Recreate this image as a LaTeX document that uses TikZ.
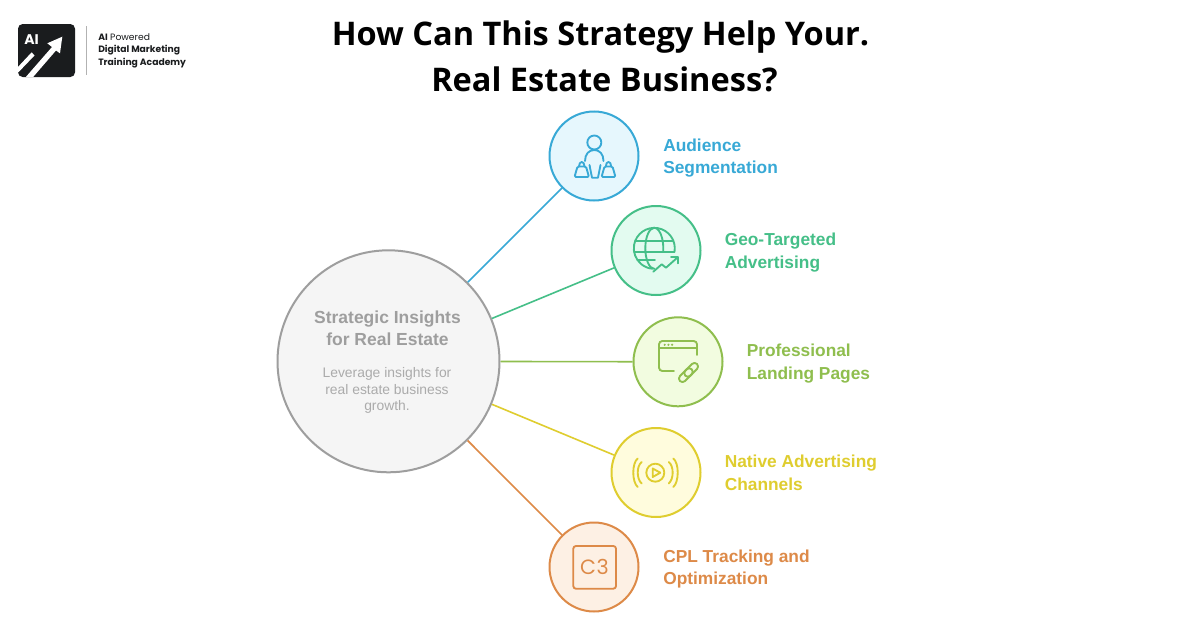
\documentclass[tikz,border=0pt]{standalone}
\usepackage{fontspec}
\setmainfont{Liberation Sans}
\newfontfamily\titlefont{Open Sans}
\newfontfamily\logofont{Poppins}
\definecolor{cblue}{HTML}{38A9D6}\definecolor{fblue}{HTML}{E6F7FD}
\definecolor{cgreen}{HTML}{45BF88}\definecolor{fgreen}{HTML}{E3FBF0}
\definecolor{colive}{HTML}{8FBE4E}\definecolor{folive}{HTML}{F2FCE0}
\definecolor{cyellow}{HTML}{DFCD2F}\definecolor{fyellow}{HTML}{FFFCDD}
\definecolor{corange}{HTML}{DD8A48}\definecolor{forange}{HTML}{FDF0E4}
\definecolor{logoink}{HTML}{1A1C1E}
\tikzset{
  bubble/.style={circle,draw=c#1,fill=f#1,line width=1.5pt,minimum size=66.75pt,inner sep=0pt},
  link/.style={line width=1.2pt,draw=c#1},
  ico/.style={line width=1.4pt,draw=c#1,line cap=round,line join=round},
  lab/.style={anchor=base west,inner sep=0pt,font=\fontsize{13}{15}\selectfont\bfseries,text=c#1},
  hub/.style={anchor=base,inner sep=0pt,font=\fontsize{13.1}{15}\selectfont\bfseries,text=black!38},
  sub/.style={anchor=base,inner sep=0pt,font=\fontsize{10.4}{13}\selectfont,text=black!33},
  ttl/.style={anchor=base,inner sep=0pt,font=\fontsize{24.4}{30}\selectfont\titlefont\bfseries,text=black},
  brand/.style={anchor=base west,inner sep=0pt,font=\fontsize{6.9}{9}\selectfont\logofont,text=logoink},
}
\begin{document}
\begin{tikzpicture}[x=0.75pt,y=-0.75pt]
\useasboundingbox (0,0) rectangle (1200,628);
\fill[white] (0,0) rectangle (1200,628);
% logo
\fill[logoink,rounded corners=3.5pt] (18,24) rectangle (75,77);
\node[anchor=base west,inner sep=0pt,text=white,font=\fontsize{10.5}{13}\selectfont\logofont\bfseries] (logoai) at (24,44.5) {AI};
\fill[white] (26,76.8)--(33.3,76.8)--(56,50.5)--(60,53.3)--(62.3,36.7)--(47.3,43.3)--(52,47)--cycle;
\fill[white] (18.2,66.7)--(31.7,52.3)--(34.5,55.5)--(18.2,72.5)--cycle;
\draw[black!30,line width=0.75pt] (86,26)--(86,75);
\node[brand] (b1) at (98,40.7) {\textbf{AI} Powered};
\node[brand] (b2) at (98,52.7) {\textbf{Digital Marketing}};
\node[brand] (b3) at (98,65) {\textbf{Training Academy}};
% title
\node[ttl] (t1) at (600.5,45) {How Can This Strategy Help Your.};
\node[ttl] (t2) at (604.5,91) {Real Estate Business?};
% hub and bubbles
\node[circle,draw=black!38,fill=black!4,line width=1.5pt,minimum size=166.5pt,inner sep=0pt] (hub) at (388.5,361.3) {};
\node[bubble=blue] (a) at (594,156) {};
\node[bubble=green] (g) at (656,250.5) {};
\node[bubble=olive] (p) at (678,361.8) {};
\node[bubble=yellow] (n) at (656,472.5) {};
\node[bubble=orange] (c) at (594,567) {};
\draw[link=blue] (hub)--(a);
\draw[link=green] (hub)--(g);
\draw[link=olive] (hub)--(p);
\draw[link=yellow] (hub)--(n);
\draw[link=orange] (hub)--(c);
% hub text
\node[hub] (h1) at (387.5,323) {Strategic Insights};
\node[hub] (h2) at (387.5,345) {for Real Estate};
\node[sub] (s1) at (387,377.5) {Leverage insights for};
\node[sub] (s2) at (387,394) {real estate business};
\node[sub] (s3) at (387,410.5) {growth.};
% labels
\node[lab=blue] (l1a) at (663,151) {Audience};
\node[lab=blue] (l1b) at (663,173) {Segmentation};
\node[lab=green] (l2a) at (724.5,245.5) {Geo-Targeted};
\node[lab=green] (l2b) at (724.5,268) {Advertising};
\node[lab=olive] (l3a) at (746.5,356.5) {Professional};
\node[lab=olive] (l3b) at (746.5,379) {Landing Pages};
\node[lab=yellow] (l4a) at (724.5,467.5) {Native Advertising};
\node[lab=yellow] (l4b) at (724.5,490) {Channels};
\node[lab=orange] (l5a) at (663,562) {CPL Tracking and};
\node[lab=orange] (l5b) at (663,584) {Optimization};
% audience icon
\begin{scope}[ico=blue]
\draw (594.3,142.5) circle[radius=7];
\draw (585,161) .. controls (585,154) and (589,150) .. (594.3,150) .. controls (599.5,150) and (603.5,154) .. (603.5,161);
\draw (589.5,165)--(592,177.7)--(598,177.7)--(600.5,165);
\draw[rounded corners=1pt] (574.5,177)--(577.5,166.5)--(586,166.5)--(589,177)--cycle;
\draw (579,166.5) .. controls (579,160.5) and (584.5,160.5) .. (584.5,166.5);
\draw[rounded corners=1pt] (601.5,177)--(604.5,166.5)--(612.5,166.5)--(615.5,177)--cycle;
\draw (605.8,166.5) .. controls (605.8,160.5) and (611.2,160.5) .. (611.2,166.5);
\end{scope}
% globe icon
\begin{scope}[ico=green]
\draw (674.5,251.9) arc[start angle=10,end angle=-265,radius=20.5];
\draw (654.3,227.8) arc[start angle=-90,end angle=-270,x radius=9,y radius=20.5];
\draw (654.3,227.8) arc[start angle=-90,end angle=8,x radius=9,y radius=20.5];
\draw (635.3,240.7)--(673.3,240.7);
\draw (634.1,251.7)--(674.3,251.7);
\draw (637.5,260)--(655,260);
\draw (653.3,271.7)--(661.7,264.3)--(666,267.7)--(677.7,257.3);
\draw (671,257.3)--(677.7,257.3)--(677.7,263.3);
\end{scope}
% landing page icon
\begin{scope}[ico=olive]
\draw[rounded corners=2.5pt] (697,355)--(697,341)--(659,341)--(659,371)--(674,371);
\draw (659,348.3)--(697,348.3);
\fill[colive] (664.7,344.8) circle[radius=1.2] (668.4,344.8) circle[radius=1.2] (672.1,344.8) circle[radius=1.2];
\begin{scope}[rotate around={45:(688.5,372.5)}]
\draw[rounded corners=2.5pt] (676.5,369) rectangle (693,376);
\draw[rounded corners=2.5pt] (684,369) rectangle (700.5,376);
\end{scope}
\end{scope}
% play icon
\begin{scope}[ico=yellow]
\draw (655.3,472.7) circle[radius=9];
\draw (652.7,468.5)--(652.7,477)--(660.3,472.7)--cycle;
\draw (641.7,462) .. controls (636.4,466) and (636.4,479) .. (641.7,483.5);
\draw (637.7,458.5) .. controls (631.8,463) and (631.8,482) .. (637.7,487);
\draw (668.7,462) .. controls (674,466) and (674,479) .. (668.7,483.5);
\draw (673.3,458.5) .. controls (679.2,463) and (679.2,482) .. (673.3,487);
\end{scope}
% C3 icon
\draw[ico=orange,rounded corners=2pt] (573.3,546) rectangle (616,588.7);
\node[inner sep=0pt,text=corange,font=\fontsize{15.5}{18}\selectfont\logofont] (c3) at (594.5,567) {C\kern0.5pt 3};
\end{tikzpicture}
\end{document}
